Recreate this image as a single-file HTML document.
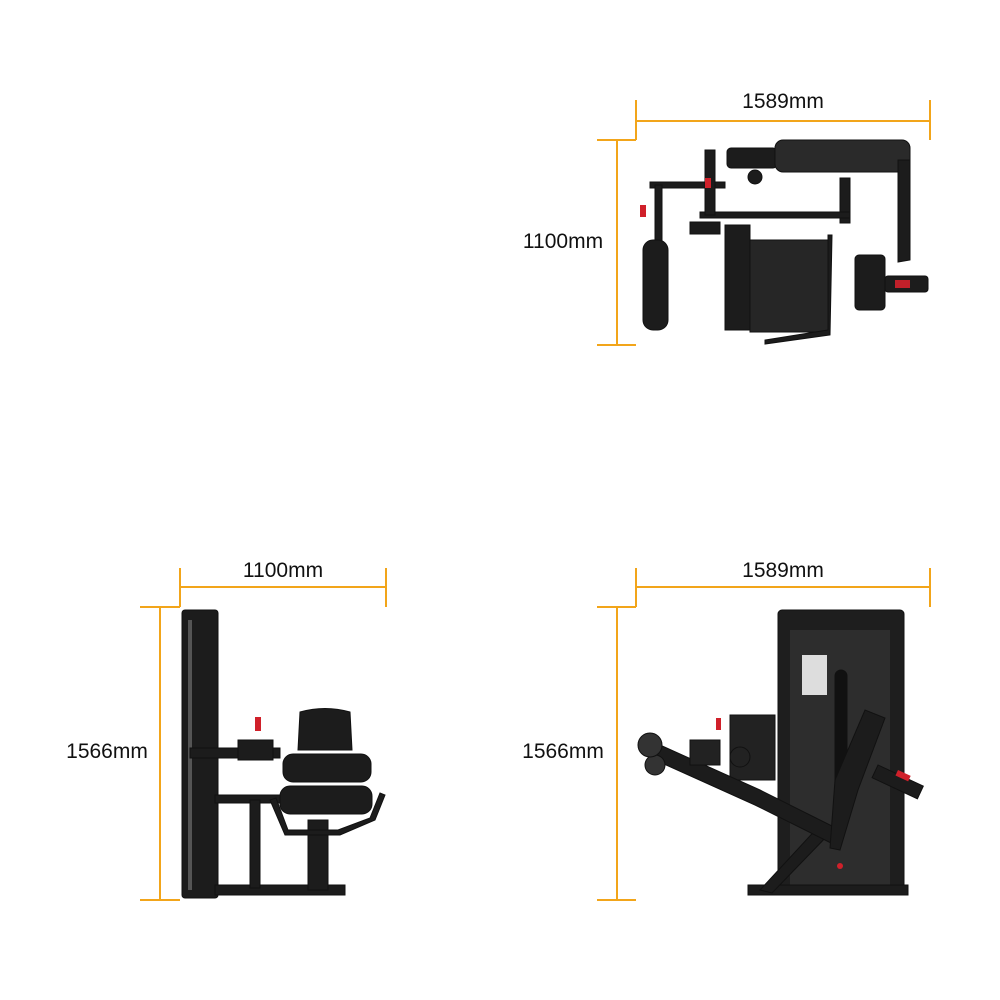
<!DOCTYPE html>
<html><head><meta charset="utf-8"><style>
html,body{margin:0;padding:0;background:#fff;}
svg{display:block}
text{font-family:"Liberation Sans",sans-serif;font-size:21px;fill:#111;}
</style></head><body>
<svg width="1000" height="1000" viewBox="0 0 1000 1000" xmlns="http://www.w3.org/2000/svg">
<g stroke="#f2a51a" stroke-width="2" fill="none">
 <line x1="636" y1="121" x2="930" y2="121"/><line x1="636" y1="100" x2="636" y2="140"/><line x1="930" y1="100" x2="930" y2="140"/>
 <line x1="617" y1="140" x2="617" y2="345"/><line x1="597" y1="140" x2="636" y2="140"/><line x1="597" y1="345" x2="636" y2="345"/>
 <line x1="180" y1="587" x2="386" y2="587"/><line x1="180" y1="568" x2="180" y2="607"/><line x1="386" y1="568" x2="386" y2="607"/>
 <line x1="160" y1="607" x2="160" y2="900"/><line x1="140" y1="607" x2="180" y2="607"/><line x1="140" y1="900" x2="180" y2="900"/>
 <line x1="636" y1="587" x2="930" y2="587"/><line x1="636" y1="568" x2="636" y2="607"/><line x1="930" y1="568" x2="930" y2="607"/>
 <line x1="617" y1="607" x2="617" y2="900"/><line x1="597" y1="607" x2="636" y2="607"/><line x1="597" y1="900" x2="636" y2="900"/>
</g>
<text x="783" y="108" text-anchor="middle">1589mm</text>
<text x="563" y="248" text-anchor="middle">1100mm</text>
<text x="283" y="577" text-anchor="middle">1100mm</text>
<text x="107" y="758" text-anchor="middle">1566mm</text>
<text x="783" y="577" text-anchor="middle">1589mm</text>
<text x="563" y="758" text-anchor="middle">1566mm</text>

<g fill="#1c1c1c" stroke="#111">
 <rect x="727" y="148" width="50" height="20" rx="4"/>
 <rect x="775" y="140" width="135" height="32" rx="8" fill="#2a2a2a"/>
 <path d="M898 160 L910 160 L910 260 L898 262 Z"/>
 <rect x="840" y="178" width="10" height="45"/>
 <rect x="700" y="212" width="150" height="6"/>
 <rect x="650" y="182" width="75" height="6"/>
 <rect x="705" y="150" width="10" height="65"/>
 <rect x="655" y="185" width="7" height="60"/>
 <rect x="643" y="240" width="25" height="90" rx="10"/>
 <rect x="725" y="225" width="25" height="105"/>
 <rect x="750" y="240" width="80" height="92" fill="#262626"/>
 <path d="M828 235 L828 330 L765 340 L765 344 L830 335 L832 235 Z"/>
 <rect x="855" y="255" width="30" height="55" rx="4"/>
 <rect x="885" y="276" width="43" height="16" rx="3"/>
 <rect x="895" y="280" width="15" height="8" fill="#c0202a" stroke="none"/>
 <rect x="690" y="222" width="30" height="12"/>
 <circle cx="755" cy="177" r="7"/>
</g>
<g fill="#d0202a"><rect x="705" y="178" width="6" height="10"/><rect x="640" y="205" width="6" height="12"/></g>

<g fill="#1c1c1c" stroke="#111">
 <rect x="182" y="610" width="36" height="288" rx="3"/>
 <rect x="188" y="620" width="4" height="270" fill="#555" stroke="none"/>
 <rect x="215" y="885" width="130" height="10"/>
 <rect x="190" y="748" width="90" height="10"/>
 <rect x="215" y="795" width="70" height="8"/>
 <rect x="250" y="800" width="10" height="88"/>
 <rect x="308" y="820" width="20" height="70"/>
 <path d="M300 712 Q325 705 350 712 L352 750 L298 750 Z"/>
 <rect x="283" y="754" width="88" height="28" rx="10"/>
 <rect x="280" y="786" width="92" height="28" rx="10"/>
 <path d="M270 800 L285 835 L340 835 L375 820 L385 795 L380 793 L370 818 L338 830 L288 830 L276 798 Z"/>
 <rect x="238" y="740" width="35" height="20"/>
</g>
<rect x="255" y="717" width="6" height="14" fill="#d0202a"/>

<g stroke="#111">
 <rect x="778" y="610" width="126" height="280" rx="4" fill="#1e1e1e"/>
 <rect x="790" y="630" width="100" height="255" fill="#2d2d2d" stroke="none"/>
 <rect x="802" y="655" width="25" height="40" fill="#ddd" stroke="none"/>
 <rect x="835" y="670" width="12" height="140" rx="6" fill="#111"/>
 <rect x="748" y="885" width="160" height="10" fill="#1c1c1c"/>
 <path d="M760 890 L820 825 L830 833 L772 893 Z" fill="#1c1c1c"/>
 <rect x="730" y="715" width="45" height="65" fill="#222"/>
 <path d="M660 745 L760 790 L840 830 L835 845 L755 805 L655 760 Z" fill="#1c1c1c"/>
 <circle cx="655" cy="765" r="10" fill="#333"/>
 <circle cx="650" cy="745" r="12" fill="#333"/>
 <circle cx="740" cy="757" r="10" fill="#222"/>
 <rect x="690" y="740" width="30" height="25" fill="#222"/>
 <path d="M835 780 L865 710 L885 718 L858 790 L840 850 L830 848 Z" fill="#1c1c1c"/>
 <rect x="878" y="765" width="50" height="14" transform="rotate(25 878 765)" fill="#1c1c1c"/>
</g>
<g fill="#d0202a"><rect x="716" y="718" width="5" height="12"/><rect x="898" y="770" width="14" height="6" transform="rotate(25 898 770)"/><circle cx="840" cy="866" r="3"/></g>
</svg>
</body></html>
